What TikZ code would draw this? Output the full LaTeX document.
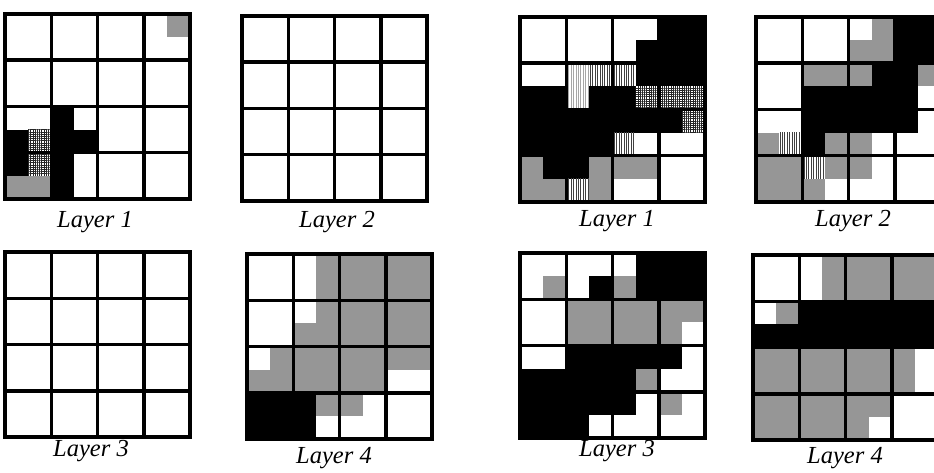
\documentclass[tikz,border=0pt]{standalone}
\usepackage{fontspec}
\setmainfont{Liberation Serif}
\usetikzlibrary{patterns.meta}
\definecolor{cell-gray}{HTML}{969696}

\def\subw{23.125}

\tikzset{
  cellW/.style={},
  cellK/.style={fill=black},
  cellG/.style={fill=cell-gray},
  cellV/.style={pattern={Lines[angle=90,distance=2.4pt,line width=1pt]}, pattern color=black!75},
  cellL/.style={pattern={Lines[angle=90,distance=2.4pt,line width=0.8pt]}, pattern color=black!35},
  cellX/.style={pattern={Hatch[angle=0,distance=2.2pt,line width=0.8pt]}, pattern color=black!85},
  gridline/.style={line width=3.5pt, line join=miter},
  layerlabel/.style={font=\fontsize{24.5}{27}\selectfont\itshape, inner sep=0pt}
}

% fills of one layer: #1,#2 = top left corner, #3 = 8 rows of 8 half cells
\newcommand{\gridfill}[3]{%
  \begin{scope}[shift={(#1,#2)}]
    \foreach \row [count=\r from 0] in {#3} {
      \foreach \c [count=\q from 0] in \row {
        \edef\cellopt{cell\c}
        \expandafter\path\expandafter[\cellopt] (\q*\subw,\r*\subw) rectangle ++(\subw,\subw);
      }
    }
  \end{scope}}

% 4x4 grid of one layer
\newcommand{\gridlines}[2]{%
  \begin{scope}[shift={(#1,#2)}]
    \foreach \k in {1,2,3} {
      \draw[gridline] (2*\k*\subw,0) -- (2*\k*\subw,8*\subw);
      \draw[gridline] (0,2*\k*\subw) -- (8*\subw,2*\k*\subw);
    }
    \draw[gridline] (0,0) rectangle (8*\subw,8*\subw);
  \end{scope}}

\begin{document}
\begin{tikzpicture}[x=1pt, y=-1pt]
    % Layout in px, y down, page 934 x 473
    %   top row grids at x = 5, 242, 520, 756
    %   bottom row grids at x = 5, 247, 520, 753
    %   grid side 185, half cell 23.125
    \useasboundingbox (0,0) rectangle (934,473);
    \clip (0,0) rectangle (934,473);

    % left pair, top
    \gridfill{5}{14}{
      {W,W,W,W,W,W,W,G},{W,W,W,W,W,W,W,W},{W,W,W,W,W,W,W,W},{W,W,W,W,W,W,W,W},
      {W,W,K,W,W,W,W,W},{K,X,K,K,W,W,W,W},{K,X,K,W,W,W,W,W},{G,G,K,W,W,W,W,W}}
    \gridlines{5}{14}
    \node[layerlabel] (lbl-l1) at (95,222) {Layer 1};

    \gridlines{242}{16}
    \node[layerlabel] (lbl-l2) at (337,222) {Layer 2};

    % left pair, bottom
    \gridlines{5}{252}
    \node[layerlabel] (lbl-l3) at (91,451) {Layer 3};

    \gridfill{247}{254}{
      {W,W,W,G,G,G,G,G},{W,W,W,G,G,G,G,G},{W,W,W,G,G,G,G,G},{W,W,G,G,G,G,G,G},
      {W,G,G,G,G,G,G,G},{G,G,G,G,G,G,W,W},{K,K,K,G,G,W,W,W},{K,K,K,W,W,W,W,W}}
    \gridlines{247}{254}
    \node[layerlabel] (lbl-l4) at (334,458) {Layer 4};

    % right pair, top
    \gridfill{520}{17}{
      {W,W,W,W,W,W,K,K},{W,W,W,W,W,K,K,K},{W,W,L,V,V,K,K,K},{K,K,L,K,K,X,X,X},
      {K,K,K,K,K,K,K,X},{K,K,K,K,V,W,W,W},{G,K,K,G,G,G,W,W},{G,G,V,G,W,W,W,W}}
    \gridlines{520}{17}
    \node[layerlabel] (lbl-r1) at (617,221) {Layer 1};

    \gridfill{756}{17}{
      {W,W,W,W,W,G,K,K},{W,W,W,W,G,G,K,K},{W,W,G,G,G,K,K,G},{W,W,K,K,K,K,K,W},
      {W,W,K,K,K,K,K,W},{G,V,K,G,G,W,W,W},{G,G,V,G,G,W,W,W},{G,G,G,W,W,W,W,W}}
    \gridlines{756}{17}
    \node[layerlabel] (lbl-r2) at (853,221) {Layer 2};

    % right pair, bottom
    \gridfill{520}{253}{
      {W,W,W,W,W,K,K,K},{W,G,W,K,G,K,K,K},{W,W,G,G,G,G,G,G},{W,W,G,G,G,G,G,W},
      {W,W,K,K,K,K,K,W},{K,K,K,K,K,G,W,W},{K,K,K,K,K,W,G,W},{K,K,K,W,W,W,W,W}}
    \gridlines{520}{253}
    \node[layerlabel] (lbl-r3) at (617,451) {Layer 3};

    \gridfill{753}{255}{
      {W,W,W,G,G,G,G,G},{W,W,W,G,G,G,G,G},{W,G,K,K,K,K,K,K},{K,K,K,K,K,K,K,K},
      {G,G,G,G,G,G,G,W},{G,G,G,G,G,G,G,W},{G,G,G,G,G,G,W,W},{G,G,G,G,G,W,W,W}}
    \gridlines{753}{255}
    \node[layerlabel] (lbl-r4) at (845,458) {Layer 4};
\end{tikzpicture}
\end{document}
